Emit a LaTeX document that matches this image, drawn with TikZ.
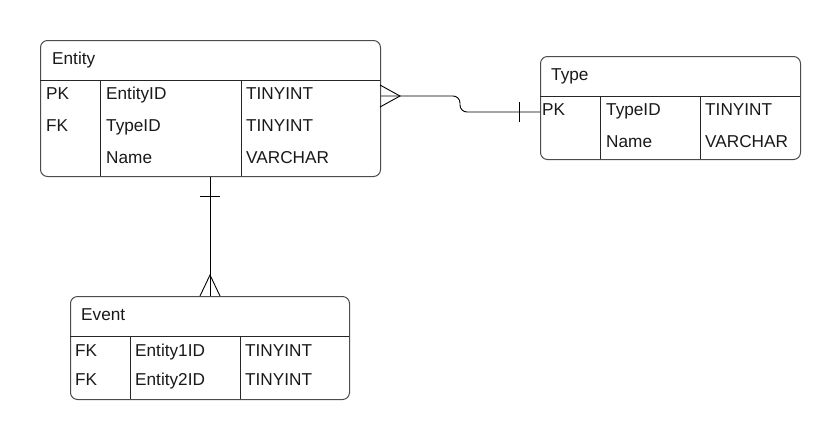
\documentclass[tikz,border=0pt]{standalone}
\usepackage{fontspec}
\setmainfont{Liberation Sans}
\begin{document}
\begin{tikzpicture}[x=1pt,y=-1pt,
  tbl/.style={draw=black!70, line width=1pt, rounded corners=7pt, anchor=north west, inner sep=0pt},
  sep/.style={draw=black!85, line width=0.9pt},
  txt/.style={anchor=base west, inner sep=0pt, font=\fontsize{17.2}{20}\selectfont, text=black!90},
  conn/.style={draw=black, line width=0.9pt}]
\useasboundingbox (0,0) rectangle (840,440);
\fill[white] (0,0) rectangle (840,440);

% Entity table
\node[tbl, minimum width=340pt, minimum height=136pt] (entity) at (40,40) {};
\draw[sep] (40,80) -- (380,80);
\draw[sep] (100,80) -- (100,176);
\draw[sep] (241,80) -- (241,176);
\node[txt] (entT) at (52,64) {Entity};
\node[txt] (e11) at (46,99) {PK};
\node[txt] (e12) at (106,99) {EntityID};
\node[txt] (e13) at (246,99) {TINYINT};
\node[txt] (e21) at (46,131) {FK};
\node[txt] (e22) at (106,131) {TypeID};
\node[txt] (e23) at (246,131) {TINYINT};
\node[txt] (e32) at (106,163) {Name};
\node[txt] (e33) at (246,163) {VARCHAR};

% Type table
\node[tbl, minimum width=260pt, minimum height=103pt] (type) at (540,56) {};
\draw[sep] (540,96) -- (800,96);
\draw[sep] (600,96) -- (600,159);
\draw[sep] (700,96) -- (700,159);
\node[txt] (tT) at (551,80) {Type};
\node[txt] (t11) at (542,115) {PK};
\node[txt] (t12) at (606,115) {TypeID};
\node[txt] (t13) at (705,115) {TINYINT};
\node[txt] (t22) at (606,147) {Name};
\node[txt] (t23) at (705,147) {VARCHAR};

% Event table
\node[tbl, minimum width=279pt, minimum height=103pt] (event) at (70,296) {};
\draw[sep] (70,336) -- (349,336);
\draw[sep] (130,336) -- (130,399);
\draw[sep] (240,336) -- (240,399);
\node[txt] (evT) at (81,320) {Event};
\node[txt] (v11) at (75,356) {FK};
\node[txt] (v12) at (135,356) {Entity1ID};
\node[txt] (v13) at (245,356) {TINYINT};
\node[txt] (v21) at (75,385) {FK};
\node[txt] (v22) at (135,385) {Entity2ID};
\node[txt] (v23) at (245,385) {TINYINT};

% Entity -- Type connector
\coordinate (a1) at (entity.east |- 0,96);
\coordinate (a2) at (type.west |- 0,112);
\draw[conn, rounded corners=7pt] (a1) -- (460,96) -- (460,112) -- (a2);
\draw[conn] (380,85) -- (400,96) -- (380,107);
\draw[conn] (519,102) -- (519,122);

% Entity -- Event connector
\coordinate (b1) at (entity.south -| 210,0);
\coordinate (b2) at (event.north -| 210,0);
\draw[conn] (b1) -- (b2);
\draw[conn] (200,196) -- (220,196);
\draw[conn] (200,296) -- (210,275) -- (220,296);
\end{tikzpicture}
\end{document}
